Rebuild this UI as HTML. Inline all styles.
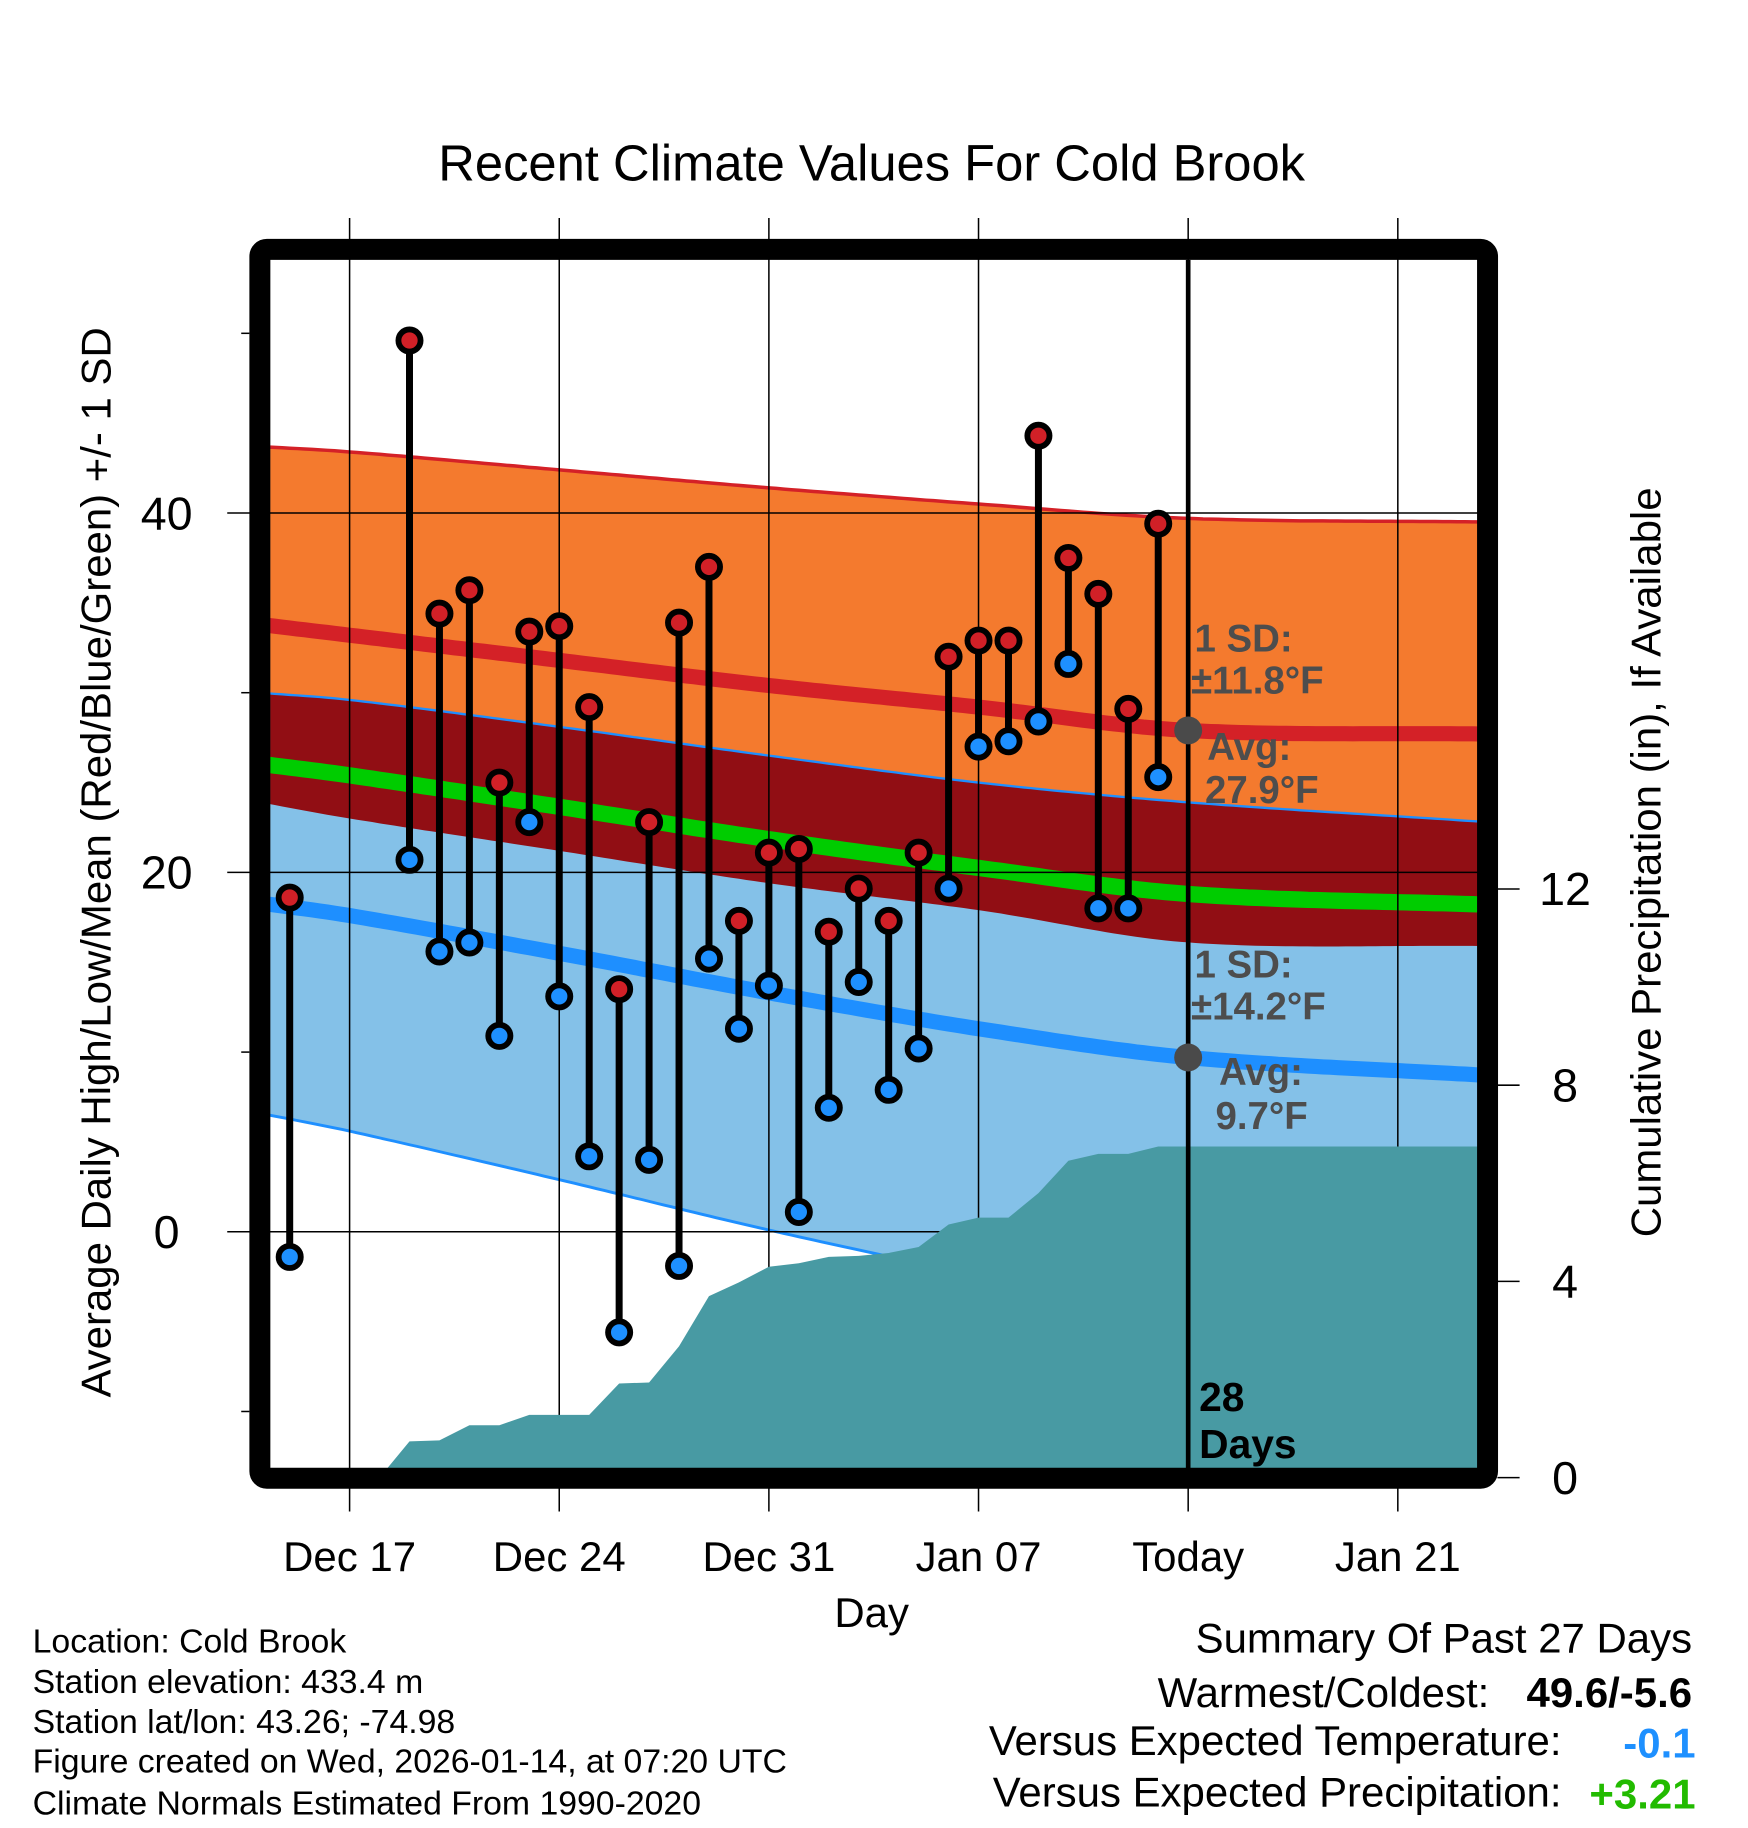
<!DOCTYPE html>
<html><head><meta charset="utf-8"><style>
html,body{margin:0;padding:0;background:#fff}
svg{display:block}
text{font-family:"Liberation Sans",Arial,sans-serif}
</style></head><body>
<svg id="chart" xmlns="http://www.w3.org/2000/svg" width="1748" height="1828" viewBox="0 0 1500 1568.6">
<defs><clipPath id="plotclip"><rect x="231.8" y="223" width="1036.2" height="1037"/></clipPath></defs>
<rect width="1500" height="1568.6" fill="#fff"/>
<text x="748" y="155" font-size="43.5" text-anchor="middle">Recent Climate Values For Cold Brook</text>
<g id="bands" clip-path="url(#plotclip)"></g>
<g id="grid"></g>
<g id="precip" clip-path="url(#plotclip)"></g>
<g id="annot"></g>
<g id="marks"></g>
<rect x="223" y="214" width="1053.5" height="1054.5" rx="6" fill="none" stroke="#000" stroke-width="18"/>
<g id="axes"></g>
<text transform="translate(95,740) rotate(-90)" font-size="36" text-anchor="middle">Average Daily High/Low/Mean (Red/Blue/Green) +/- 1 SD</text>
<text transform="translate(1425,740) rotate(-90)" font-size="36" text-anchor="middle">Cumulative Precipitation (in), If Available</text>
<text x="748" y="1396" font-size="36" text-anchor="middle">Day</text>
<g font-size="29">
<text x="28" y="1418">Location: Cold Brook</text>
<text x="28" y="1453">Station elevation: 433.4 m</text>
<text x="28" y="1487">Station lat/lon: 43.26; -74.98</text>
<text x="28" y="1521">Figure created on Wed, 2026-01-14, at 07:20 UTC</text>
<text x="28" y="1557">Climate Normals Estimated From 1990-2020</text>
</g>
<g font-size="36">
<text x="1452" y="1418" text-anchor="end">Summary Of Past 27 Days</text>
<text x="1278" y="1465" text-anchor="end">Warmest/Coldest:</text>
<text x="1452" y="1465" text-anchor="end" font-weight="bold">49.6/-5.6</text>
<text x="1340" y="1506" text-anchor="end">Versus Expected Temperature:</text>
<text x="1455" y="1508" text-anchor="end" font-weight="bold" fill="#1E90FF">-0.1</text>
<text x="1340" y="1550" text-anchor="end">Versus Expected Precipitation:</text>
<text x="1455" y="1552" text-anchor="end" font-weight="bold" fill="#22BB00">+3.21</text>
</g>
</svg>
<script>
// ---- data ----
const obsDays = [-2,2,3,4,5,6,7,8,9,10,11,12,13,14,15,16,17,18,19,20,21,22,23,24,25,26,27];
const highs = [18.6,49.6,34.4,35.7,25.0,33.4,33.7,29.2,13.5,22.8,33.9,37.0,17.3,21.1,21.3,16.7,19.1,17.3,21.1,32.0,32.9,32.9,44.3,37.5,35.5,29.1,39.4];
const lows  = [-1.4,20.7,15.6,16.1,10.9,22.8,13.1,4.2,-5.6,4.0,-1.9,15.2,11.3,13.7,1.1,6.9,13.9,7.9,10.2,19.1,27.0,27.3,28.4,31.6,18.0,18.0,25.3];
const precipDays = [1,2,3,4,5,6,7,8,9,10,11,12,13,14,15,16,17,18,19,20,21,22,23,24,25,26,27,38];
const precipVals = [0,0.74,0.76,1.07,1.07,1.28,1.28,1.28,1.92,1.94,2.68,3.70,3.98,4.30,4.37,4.50,4.52,4.58,4.70,5.16,5.30,5.30,5.80,6.46,6.60,6.60,6.75,6.75];
const normDays = [-3,0,7,14,21,28,38];
const normHigh = [33.8,33.2,31.8,30.4,29.2,27.9,27.7];
const sdHigh   = [9.9,10.2,10.6,11.0,11.3,11.8,11.8];
const normLow  = [18.3,17.6,15.5,13.3,11.3,9.7,8.7];
const sdLow    = [11.7,12.0,12.6,13.2,13.7,14.2,14.1];
const xTickDays = [0,7,14,21,28,35];
const xTickLabels = ["Dec 17","Dec 24","Dec 31","Jan 07","Today","Jan 21"];
const yTicks = [0,20,40];
const yMinorTicks = [-10,10,30,50];
const pTicks = [0,4,8,12];

// ---- axes ----
const X = d => 300 + d*25.7;
const Y = t => 1057 - t*15.42;
const P = p => 1268 - p*42.1;
const NS = "http://www.w3.org/2000/svg";
function mk(parent, tag, attrs){const e=document.createElementNS(NS,tag);for(const k in attrs)e.setAttribute(k,attrs[k]);parent.appendChild(e);return e;}
// Catmull-Rom style smooth sampling through the normal nodes
function interp(xs, ys, d){
  const n=xs.length;
  if(d<=xs[0])return ys[0];
  if(d>=xs[n-1])return ys[n-1];
  let i=1;while(d>xs[i])i++;
  const x0=xs[i-1],x1=xs[i],y0=ys[i-1],y1=ys[i];
  const h=x1-x0,t=(d-x0)/h;
  const m=(k)=>{ if(k===0)return (ys[1]-ys[0])/(xs[1]-xs[0]); if(k===n-1)return (ys[n-1]-ys[n-2])/(xs[n-1]-xs[n-2]); return (ys[k+1]-ys[k-1])/(xs[k+1]-xs[k-1]); };
  const m0=m(i-1)*h,m1=m(i)*h;
  const t2=t*t,t3=t2*t;
  return (2*t3-3*t2+1)*y0+(t3-2*t2+t)*m0+(-2*t3+3*t2)*y1+(t3-t2)*m1;
}
const samples=[];for(let d=-3;d<=38;d+=0.25)samples.push(d);
const fn = (f)=>samples.map(d=>[X(d),Y(f(d))]);
const hi=d=>interp(normDays,normHigh,d), sh=d=>interp(normDays,sdHigh,d);
const lo=d=>interp(normDays,normLow,d), sl=d=>interp(normDays,sdLow,d);
function pts(a){return a.map(p=>p[0].toFixed(1)+","+p[1].toFixed(1)).join(" ");}
function band(g,up,dn,fill,name){
  const a=fn(up), b=fn(dn).reverse();
  const e=mk(g,"polygon",{points:pts(a.concat(b)),fill:fill});
  
  
}
function line(g,f,col,w,name){
  const e=mk(g,"polyline",{points:pts(fn(f)),fill:"none",stroke:col,"stroke-width":w});
  
  
}
const bands=document.getElementById("bands");
band(bands,d=>hi(d)+sh(d),d=>hi(d)-sh(d),"#F47A2E","high-sd-band");
band(bands,d=>lo(d)+sl(d),d=>lo(d)-sl(d),"#84C1E8","low-sd-band");
band(bands,d=>lo(d)+sl(d),d=>hi(d)-sh(d),"#910E14","overlap-band");
line(bands,d=>hi(d)+sh(d),"#D42127",3,"high-plus-sd-line");
line(bands,d=>lo(d)+sl(d),"#1E8FFF",2,"low-plus-sd-line");
line(bands,d=>lo(d)-sl(d),"#1E8FFF",2.5,"low-minus-sd-line");
line(bands,hi,"#D42127",13,"normal-high-line");
line(bands,lo,"#1E8FFF",13,"normal-low-line");
line(bands,d=>(hi(d)+lo(d))/2,"#00CC00",14,"normal-mean-line");

// grid
const grid=document.getElementById("grid");
xTickDays.forEach((d,i)=>{
  const e=mk(grid,"line",{x1:X(d),x2:X(d),y1:187,y2:1297,stroke:"#000","stroke-width":1.3});
  
  
});
yTicks.forEach(t=>{
  const e=mk(grid,"line",{x1:195,x2:1268,y1:Y(t),y2:Y(t),stroke:"#000","stroke-width":1.3});
  
  
});

// precipitation area
const pr=document.getElementById("precip");
let pp=[[X(precipDays[0]),1262]];
precipDays.forEach((d,i)=>pp.push([X(d),P(precipVals[i])]));
pp.push([X(precipDays[precipDays.length-1]),1262]);
const pa=mk(pr,"polygon",{points:pts(pp),fill:"#489AA3"});



// today line & annotations
const an=document.getElementById("annot");
const tl=mk(an,"line",{x1:X(28),x2:X(28),y1:223,y2:1262,stroke:"#000","stroke-width":4});


[[hi(28),"Avg high"],[lo(28),"Avg low"]].forEach(v=>{
  const c=mk(an,"circle",{cx:X(28),cy:Y(v[0]),r:12,fill:"#4a4a4a"});
  
  
});
const labels=[["1 SD:",1025,559],["±11.8°F",1022,595],["Avg:",1036,652],["27.9°F",1034,689],
["1 SD:",1025,839],["±14.2°F",1022,875],["Avg:",1046,931],["9.7°F",1043,969]];
labels.forEach(l=>{
  const t=mk(an,"text",{x:l[1],y:l[2],"font-size":33,"font-weight":"bold",fill:"#4d4d4d"});
  t.textContent=l[0];
  
  
});
[["28",1211],["Days",1251]].forEach(l=>{
  const t=mk(an,"text",{x:1029,y:l[1],"font-size":35,"font-weight":"bold",fill:"#000"});
  t.textContent=l[0];
  
  
});

// observations
const mg=document.getElementById("marks");
obsDays.forEach((d,i)=>{
  const x=X(d);
  const s=mk(mg,"line",{x1:x,x2:x,y1:Y(highs[i]),y2:Y(lows[i]),stroke:"#000","stroke-width":6});
  
  
  const h=mk(mg,"circle",{cx:x,cy:Y(highs[i]),r:9.5,fill:"#D12027",stroke:"#000","stroke-width":5});
  
  
  const l=mk(mg,"circle",{cx:x,cy:Y(lows[i]),r:9.5,fill:"#1E90FF",stroke:"#000","stroke-width":5});
  
  
});

// axes ticks and labels
const ax=document.getElementById("axes");
yTicks.forEach(t=>{
  const e=mk(ax,"text",{x:143,y:Y(t)+14,"font-size":40,"text-anchor":"middle"});
  e.textContent=String(t);
  
  
});
yMinorTicks.forEach(t=>{
  const e=mk(ax,"line",{x1:207,x2:214,y1:Y(t),y2:Y(t),stroke:"#000","stroke-width":1.3});
  
  
});
pTicks.forEach(p=>{
  const e=mk(ax,"line",{x1:1285,x2:1304,y1:P(p),y2:P(p),stroke:"#000","stroke-width":1.3});
  
  
  const t=mk(ax,"text",{x:1343,y:P(p)+14,"font-size":40,"text-anchor":"middle"});
  t.textContent=String(p);
  
  
});
xTickDays.forEach((d,i)=>{
  const t=mk(ax,"text",{x:X(d),y:1348,"font-size":36,"text-anchor":"middle"});
  t.textContent=xTickLabels[i];
  
  
});
</script>
</body></html>
